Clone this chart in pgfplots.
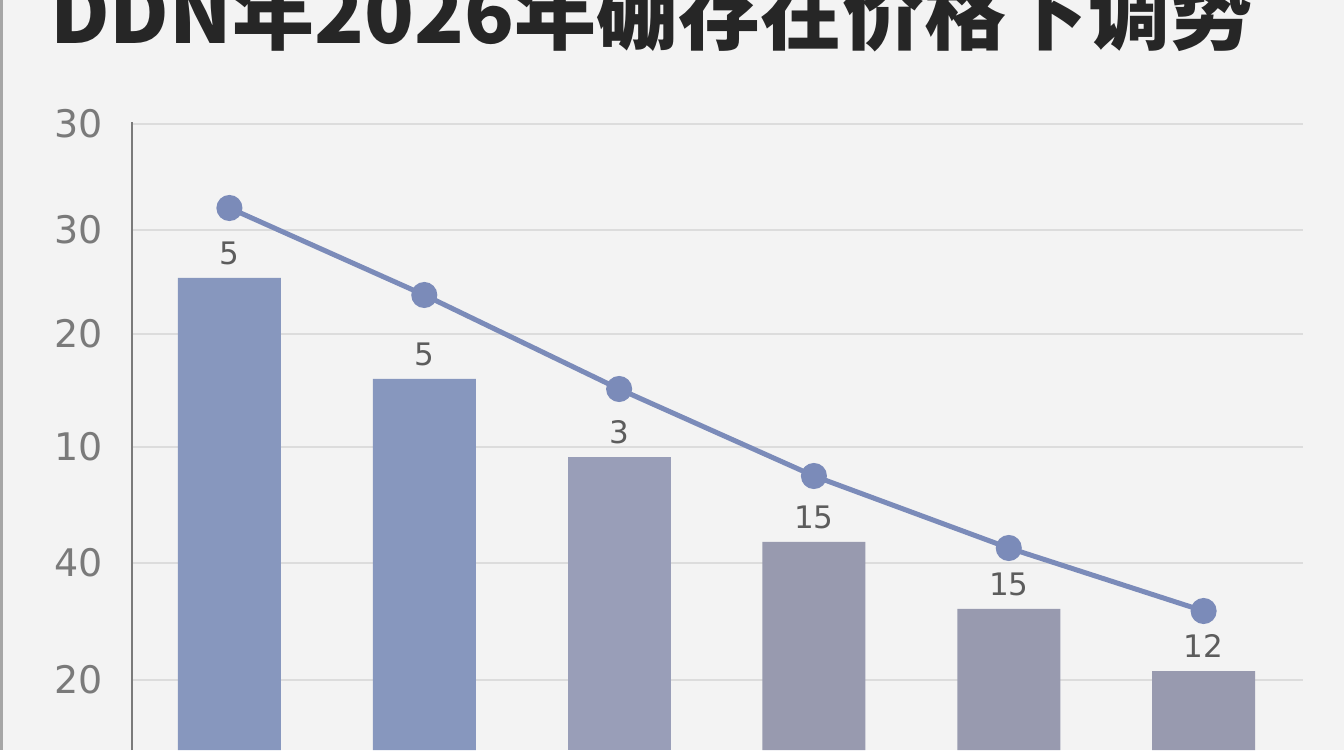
\documentclass[border=0pt]{standalone}
\usepackage{pgfplots}
\pgfplotsset{compat=1.18}
\usepackage{pgfplotstable}
\usepackage{fontspec}
\setmainfont{DejaVu Sans}
\newfontfamily\cjk{Noto Sans CJK SC}
\definecolor{bgc}{HTML}{F3F3F3}
\definecolor{barblue}{HTML}{8797BE}
\definecolor{barmid}{HTML}{999EB8}
\definecolor{bargray}{HTML}{989AAF}
\definecolor{linec}{HTML}{7B8BB9}
\definecolor{gridc}{HTML}{DCDCDC}
\definecolor{axisc}{HTML}{7A7A7A}
\definecolor{labc}{HTML}{5C5C5C}

% bar values (in pixel-height units of the reference, y = 750 - row)
\pgfplotstableread{
x y lab
0 472 5
1 371 5
}\blue
\pgfplotstableread{
x y lab
2 293 3
}\mid
\pgfplotstableread{
x y lab
3 208 15
4 141 15
5 79 12
}\gray
\pgfplotstableread{
x y
0 542
1 455
2 361
3 274
4 202
5 139
}\trend

\begin{document}
\begin{tikzpicture}[x=1pt,y=1pt]
\useasboundingbox (0,0) rectangle (1344,750);
\clip (0,0) rectangle (1344,750);
\fill[bgc] (0,0) rectangle (1344,750);
\fill[gray!70] (0,0) rectangle (3,750);
\node[anchor=base west, inner sep=0pt, text=black!85] at (50,706)
  {\fontsize{82}{88}\selectfont\cjk\bfseries DDN年2026年硼存在价格下调势};
\begin{axis}[
  at={(132pt,0pt)}, anchor=south west,
  scale only axis, width=1171pt, height=628pt,
  xmin=-0.5, xmax=5.51, ymin=0, ymax=628,
  axis y line*=left, axis x line=none,
  y axis line style={draw=axisc, line width=2.5pt},
  ytick={626,520,416,303,187,70},
  yticklabels={30,30,20,10,40,20},
  major tick length=0pt,
  ymajorgrids, grid style={draw=gridc, line width=1.8pt},
  yticklabel style={font=\fontsize{38}{40}\selectfont, text=axisc, inner sep=0pt, xshift=-29pt},
  /pgf/number format/assume math mode=true,
  clip=false,
  ybar, bar width=103pt,
  nodes near coords,
  point meta=explicit symbolic,
  every node near coord/.append style={anchor=center, yshift=25pt,
     font=\fontsize{31}{33}\selectfont, text=labc},
]
\addplot[fill=barblue, draw=none, bar shift=0pt] table[x=x,y=y,meta=lab] {\blue};
\addplot[fill=barmid, draw=none, bar shift=0pt] table[x=x,y=y,meta=lab] {\mid};
\addplot[fill=bargray, draw=none, bar shift=0pt] table[x=x,y=y,meta=lab] {\gray};
\addplot[sharp plot, nodes near coords=, draw=linec, line width=5pt,
  mark=*, mark size=10.5pt, mark options={fill=linec, draw=none}]
  table[x=x,y=y] {\trend};
\end{axis}
\end{tikzpicture}
\end{document}
